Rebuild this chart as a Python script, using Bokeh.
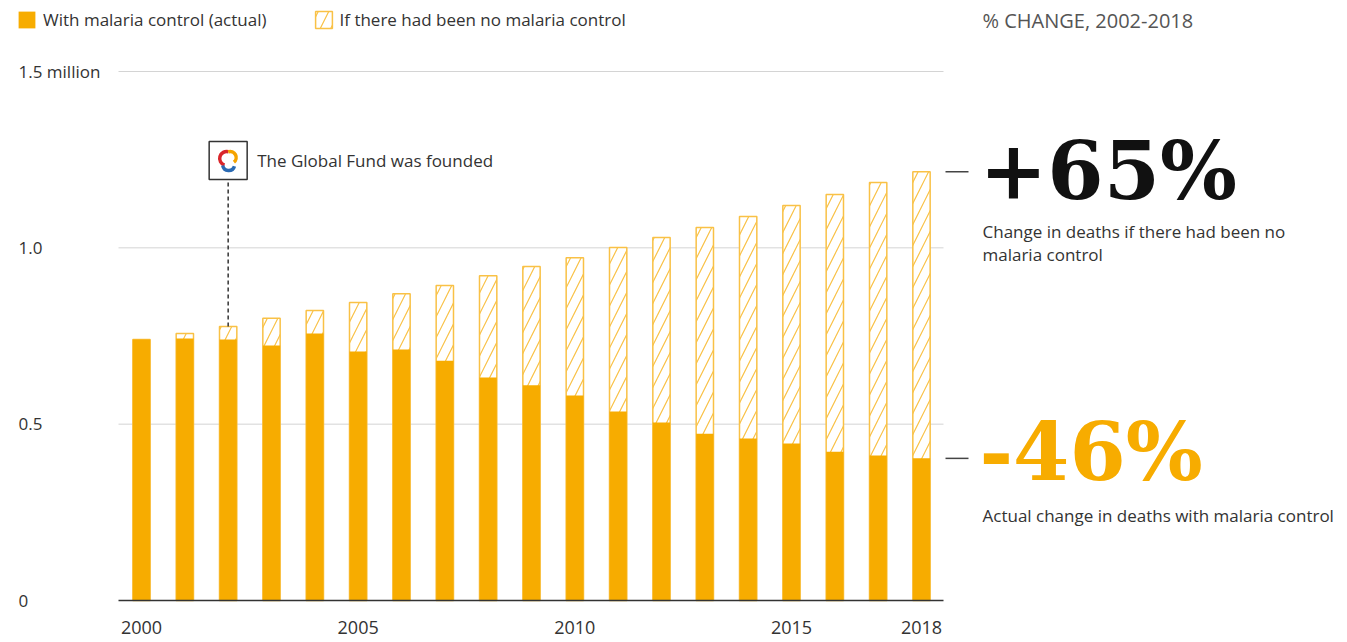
from bokeh.plotting import figure
from bokeh.models import Range1d, Legend, LegendItem
from bokeh.embed import file_html
from bokeh.resources import INLINE
from bokeh.core.properties import value

# ---------------- data ----------------
years = list(range(2000, 2019))
actual = [0.740, 0.743, 0.740, 0.723, 0.757, 0.706, 0.712, 0.680, 0.632, 0.610,
          0.581, 0.536, 0.505, 0.473, 0.459, 0.445, 0.422, 0.411, 0.403]
no_control = [0.740, 0.757, 0.777, 0.800, 0.822, 0.845, 0.870, 0.893, 0.921, 0.947,
              0.972, 1.001, 1.029, 1.058, 1.089, 1.120, 1.151, 1.185, 1.216]
x_ticks = [2000, 2005, 2010, 2015, 2018]
x_tick_labels = ["2000", "2005", "2010", "2015", "2018"]
y_ticks = [0, 0.5, 1.0, 1.5]
y_tick_labels = ["0", "0.5", "1.0", "1.5 million"]
legend_labels = ["With malaria control (actual)", "If there had been no malaria control"]
founded_year = 2002
founded_text = "The Global Fund was founded"
panel_title = "% CHANGE, 2002-2018"
big_up = "+65%"
big_up_note = ["Change in deaths if there had been no", "malaria control"]
big_down = "-46%"
big_down_note = "Actual change in deaths with malaria control"

# ---------------- layout helpers (canvas pixels -> data) ----------------
PX_YEAR = 43.333
X2000 = 141.0
PX_UNIT = 352.67
Y0 = 600.0

def dx(px):
    return 2000 + (px - X2000) / PX_YEAR

def dy(py):
    return (Y0 - py) / PX_UNIT

ORANGE = "#f7ac00"
HATCH_LINE = "#f9c146"
TEXT = "#333333"
SANS = value("Open Sans")
SERIF = value("DejaVu Serif")

W, H = 1342, 638
p = figure(width=W, height=H, output_backend="svg", toolbar_location=None,
           x_range=Range1d(dx(0), dx(W)), y_range=Range1d(dy(H), dy(0)),
           x_axis_location=None, y_axis_location=None,
           min_border=0, tools="")
p.outline_line_color = None
p.background_fill_color = "white"
p.border_fill_color = "white"
p.grid.visible = False

PLOT_L, PLOT_R = dx(118), dx(943)

# grid lines
grid_vals = [t for t in y_ticks if t > 0]
p.segment(x0=[PLOT_L] * len(grid_vals), y0=grid_vals,
          x1=[PLOT_R] * len(grid_vals), y1=grid_vals,
          line_color="#d4d4d4", line_width=1)

# bars
hatched = p.vbar(x=years, top=no_control, bottom=0, width=0.4,
                 fill_color="white", line_color=HATCH_LINE, line_width=1.5,
                 hatch_pattern="/", hatch_color=HATCH_LINE, hatch_scale=21,
                 hatch_weight=1.2)
solid = p.vbar(x=years, top=actual, bottom=0, width=0.4,
               fill_color=ORANGE, line_color=None)

# x axis line and labels
p.segment(x0=[PLOT_L], y0=[0], x1=[PLOT_R], y1=[0], line_color="#333333",
          line_width=1.5)
p.text(x=x_ticks, y=[0] * len(x_ticks), text=x_tick_labels, y_offset=27,
       text_align="center", text_baseline="middle", text_font=SANS,
       text_font_size="18px", text_color=TEXT)

# y tick labels
p.text(x=[dx(18)] * len(y_ticks), y=y_ticks, text=y_tick_labels,
       text_align="left", text_baseline="middle", text_font=SANS,
       text_font_size="17px", text_color=TEXT)

# legend
legend = Legend(items=[LegendItem(label=legend_labels[0], renderers=[solid]),
                       LegendItem(label=legend_labels[1], renderers=[hatched])],
                location=(16, H - 31), orientation="horizontal",
                glyph_width=21, glyph_height=21, label_standoff=6, spacing=46,
                padding=0, margin=0, border_line_color=None,
                background_fill_alpha=0, label_text_font="Open Sans",
                label_text_font_size="17px", label_text_color=TEXT,
                label_height=21)
p.add_layout(legend)

# Global Fund marker
fi = years.index(founded_year)
box_y = dy(160)
box_half = 19 / PX_UNIT
p.segment(x0=[founded_year], y0=[no_control[fi]], x1=[founded_year],
          y1=[box_y - box_half], line_color="#333333", line_width=1.5,
          line_dash="4 3")
p.rect(x=[founded_year], y=[box_y], width=38, height=38, width_units="screen",
       height_units="screen", fill_color="white", line_color="#333333",
       line_width=1.5)
p.arc(x=[founded_year - 1.5 / PX_YEAR], y=[box_y + 2 / PX_UNIT], radius=7,
      radius_units="screen", start_angle=1.3, end_angle=4.4,
      line_color="#d9262b", line_width=3.5)
p.arc(x=[founded_year + 2 / PX_YEAR], y=[box_y + 3 / PX_UNIT], radius=6,
      radius_units="screen", start_angle=-0.9, end_angle=1.9,
      line_color="#f5a300", line_width=3.5)
p.arc(x=[founded_year + 0.5 / PX_YEAR], y=[box_y - 4 / PX_UNIT], radius=6,
      radius_units="screen", start_angle=3.3, end_angle=6.0,
      line_color="#2a6ab3", line_width=3.5)
p.text(x=[founded_year], y=[box_y], x_offset=29, text=[founded_text],
       text_baseline="middle", text_font=SANS, text_font_size="17px",
       text_color=TEXT)

# right panel
p.text(x=[dx(982)], y=[dy(20)], text=[panel_title], text_baseline="middle",
       text_font=SANS, text_font_size="20px", text_color="#555555")
ends = [no_control[-1], actual[-1]]
p.segment(x0=[dx(945)] * 2, y0=ends, x1=[dx(968)] * 2, y1=ends,
          line_color="#444444", line_width=1.5)
p.text(x=[dx(979)], y=[dy(170)], text=[big_up], text_baseline="alphabetic",
       text_font=SERIF, text_font_style="bold", text_font_size="81px",
       text_color="#111111")
p.text(x=[dx(982)] * len(big_up_note), y=[dy(231), dy(254)], text=big_up_note,
       text_baseline="middle", text_font=SANS, text_font_size="17px",
       text_color=TEXT)
p.text(x=[dx(979)], y=[dy(451)], text=[big_down], text_baseline="alphabetic",
       text_font=SERIF, text_font_style="bold", text_font_size="81px",
       text_color=ORANGE)
p.text(x=[dx(982)], y=[dy(515)], text=[big_down_note], text_baseline="middle",
       text_font=SANS, text_font_size="17px", text_color=TEXT)

open("out.html", "w").write(file_html(p, INLINE))
